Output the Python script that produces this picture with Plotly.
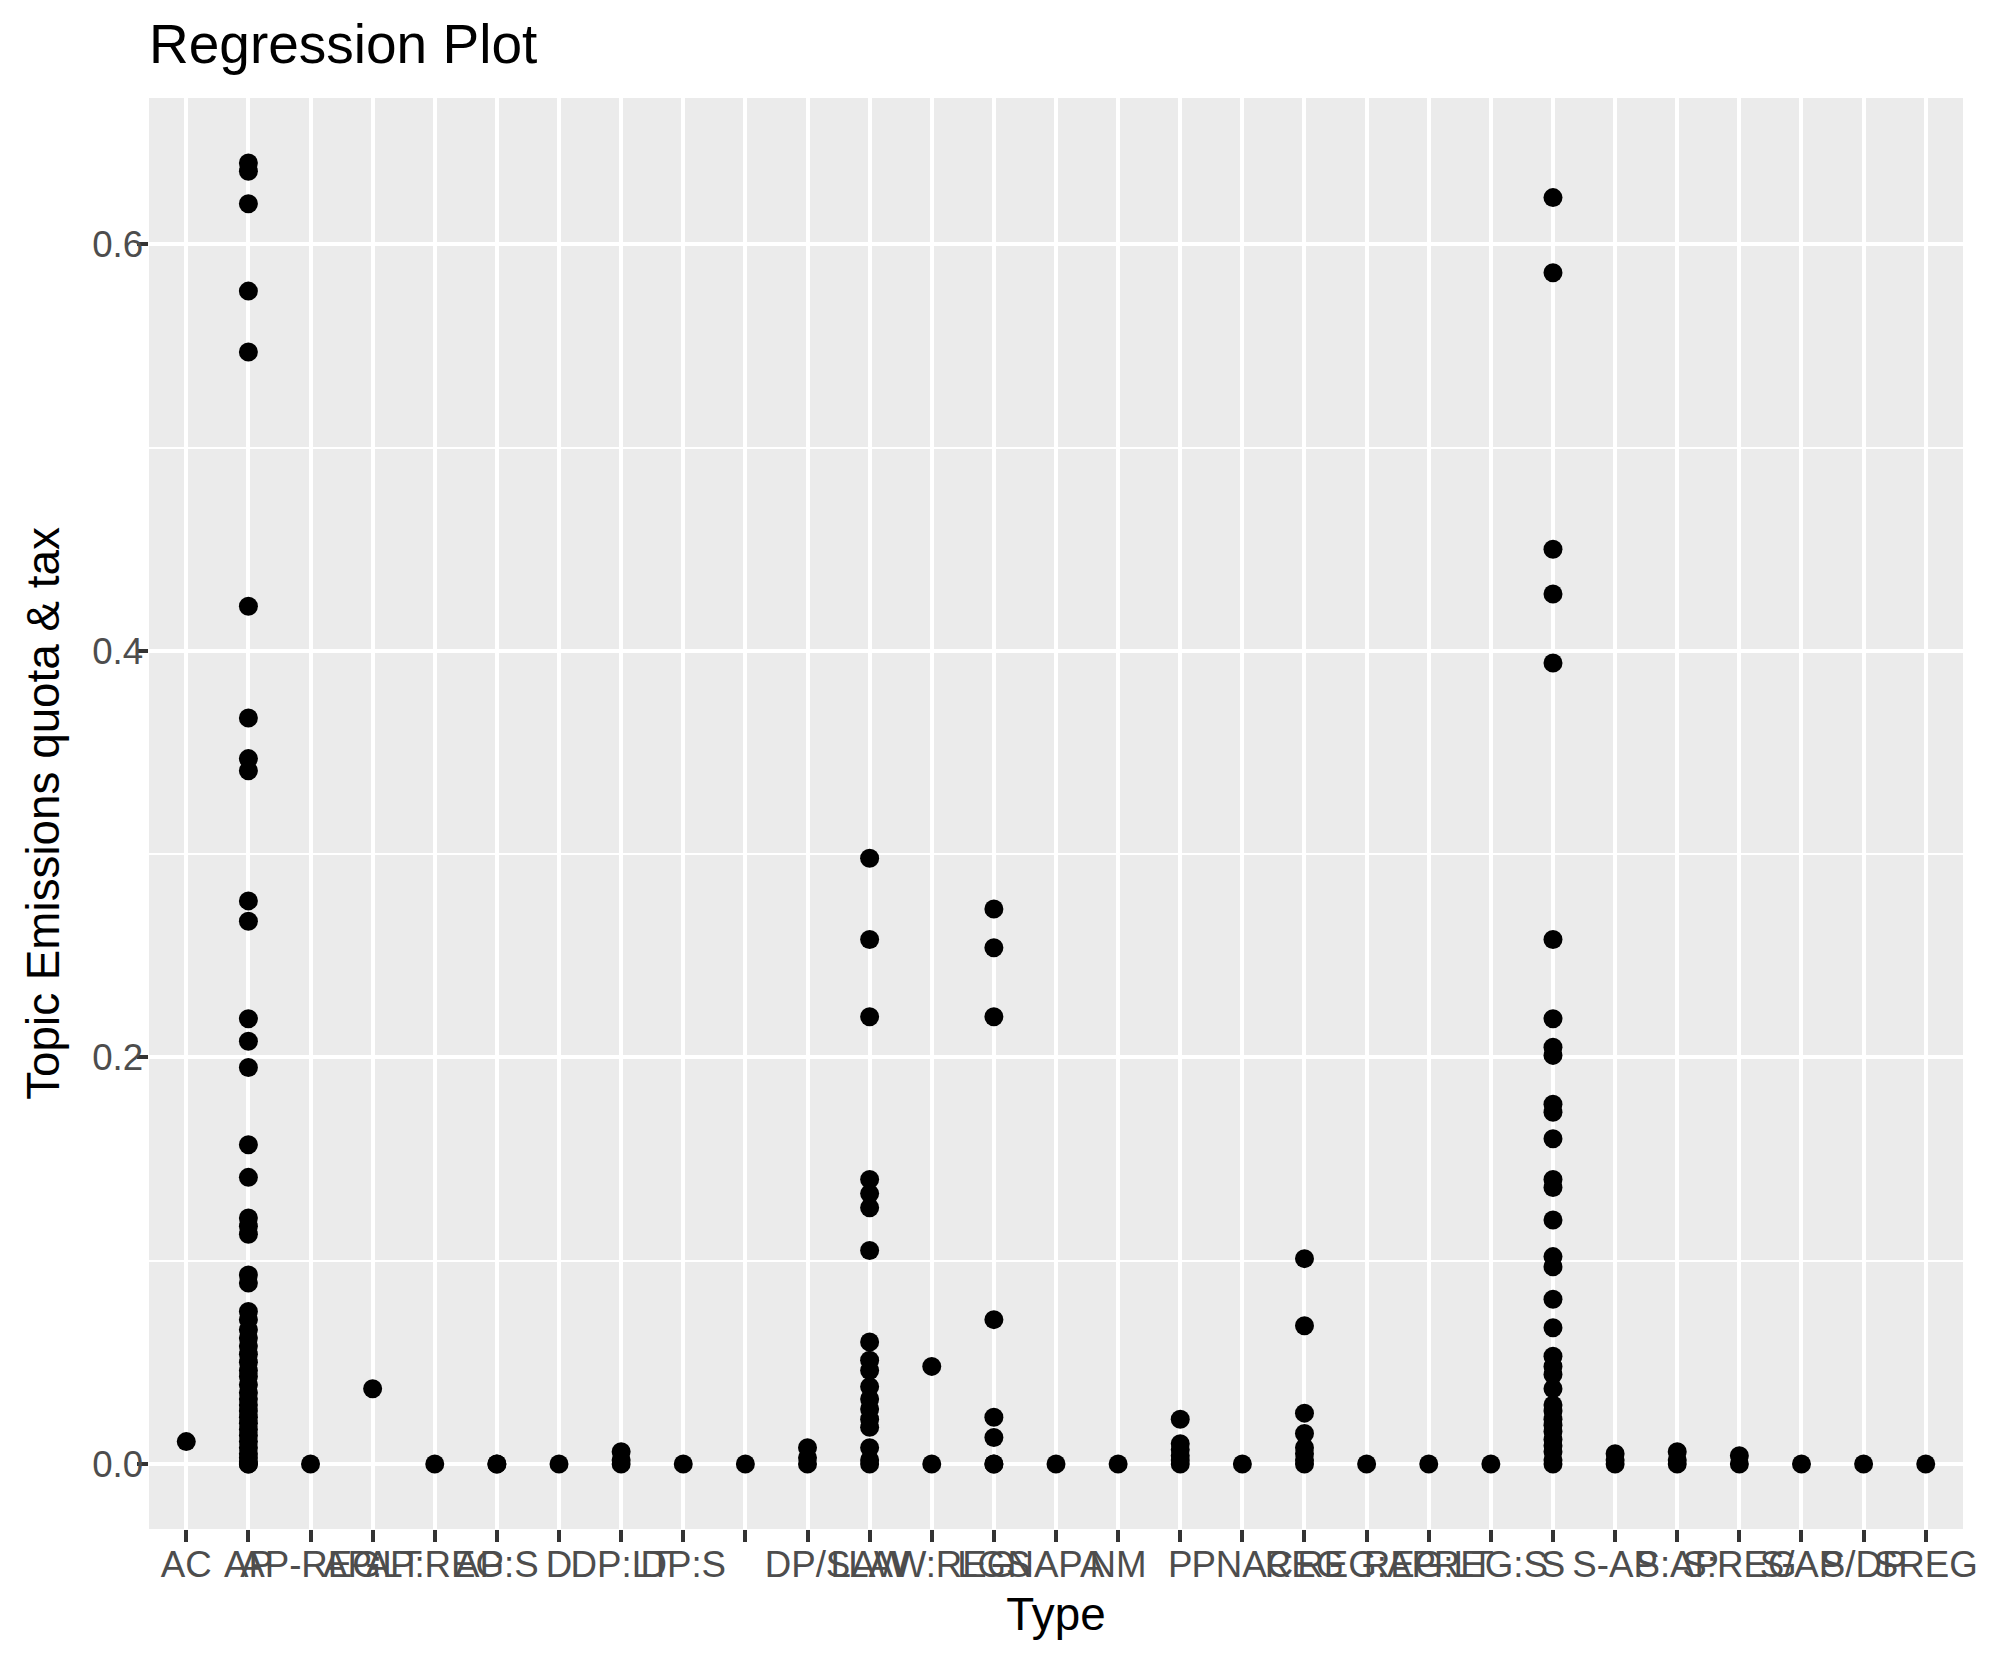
import plotly.graph_objects as go

# ---- data ----
categories = ["AC", "AP", "AP-REG", "AP:LT", "AP:REG", "AP:S", "D", "DP:LT", "DP:S",
              " ", "DP/S", "LAW", "LAW:REG", "LGS", "NAPA", "NM", "P", "PNAC",
              "REG", "REG:AP", "REG:LT", "REG:S", "S", "S-AP", "S:AP", "S:REG",
              "S/AP", "S/DP", "SREG"]

ac = [0.011]
ap = [0.640, 0.636, 0.620, 0.577, 0.547, 0.422, 0.367, 0.347, 0.341, 0.277, 0.267,
      0.219, 0.208, 0.195, 0.157, 0.141, 0.121, 0.117, 0.113, 0.093, 0.089, 0.075,
      0.071, 0.066, 0.062, 0.058, 0.054, 0.050, 0.046, 0.043, 0.039, 0.035, 0.032,
      0.029, 0.026, 0.023, 0.020, 0.017, 0.014, 0.011, 0.008, 0.005, 0.003, 0.001,
      0.0, 0.0]
ap_dash_reg = [0.0]
ap_lt = [0.037]
ap_reg = [0.0]
ap_s = [0.0, 0.0]
d = [0.0]
dp_lt = [0.006, 0.002, 0.0]
dp_s = [0.0]
blank = [0.0]
dp_slash_s = [0.008, 0.003, 0.0]
law = [0.298, 0.258, 0.220, 0.140, 0.133, 0.126, 0.105, 0.060, 0.051, 0.046, 0.038,
       0.032, 0.027, 0.022, 0.018, 0.008, 0.002, 0.0]
law_reg = [0.048, 0.0]
lgs = [0.273, 0.254, 0.220, 0.071, 0.023, 0.013, 0.0, 0.0]
napa = [0.0]
nm = [0.0]
p = [0.022, 0.010, 0.007, 0.004, 0.002, 0.0]
pnac = [0.0]
reg = [0.101, 0.068, 0.025, 0.015, 0.008, 0.005, 0.002, 0.0]
reg_ap = [0.0]
reg_lt = [0.0]
reg_s = [0.0]
s = [0.623, 0.586, 0.450, 0.428, 0.394, 0.258, 0.219, 0.205, 0.201, 0.177, 0.173,
     0.160, 0.140, 0.136, 0.120, 0.102, 0.097, 0.081, 0.067, 0.053, 0.048, 0.044,
     0.037, 0.029, 0.026, 0.022, 0.019, 0.016, 0.012, 0.009, 0.006, 0.002, 0.0]
s_dash_ap = [0.005, 0.002, 0.0]
s_ap = [0.006, 0.002, 0.0]
s_reg = [0.004, 0.0]
s_slash_ap = [0.0]
s_slash_dp = [0.0]
sreg = [0.0]

y_ticks = [0.0, 0.2, 0.4, 0.6]

series = [ac, ap, ap_dash_reg, ap_lt, ap_reg, ap_s, d, dp_lt, dp_s, blank, dp_slash_s,
          law, law_reg, lgs, napa, nm, p, pnac, reg, reg_ap, reg_lt, reg_s, s,
          s_dash_ap, s_ap, s_reg, s_slash_ap, s_slash_dp, sreg]

xs, ys = [], []
for cat, vals in zip(categories, series):
    for v in vals:
        xs.append(cat)
        ys.append(v)

ymax = max(ys)
ymin = min(ys)
pad = (ymax - ymin) * 0.05

FONT = "Liberation Sans, Arial, Helvetica, sans-serif"
# the page body adds an 8px margin, so the figure is drawn 8px smaller
W, H = 1982, 1657

fig = go.Figure()
fig.add_trace(go.Scatter(
    x=xs, y=ys, mode="markers",
    marker=dict(color="black", size=19, line=dict(width=0)),
    showlegend=False, hoverinfo="x+y",
))

fig.update_layout(
    width=W, height=H,
    margin=dict(l=141, r=24, t=90, b=136, pad=0),
    paper_bgcolor="white",
    plot_bgcolor="#EBEBEB",
    font=dict(family=FONT, color="black"),
    title=dict(text="Regression Plot", font=dict(size=55, color="black", family=FONT),
               xref="paper", x=0, xanchor="left",
               yref="container", y=1 - 36 / H, yanchor="middle"),
)

fig.update_xaxes(
    type="category",
    categoryorder="array", categoryarray=categories,
    tickmode="array", tickvals=categories, ticktext=categories,
    range=[-0.6, len(categories) - 1 + 0.6],
    tickangle=0,
    showgrid=True, gridcolor="white", gridwidth=4.4,
    zeroline=False, showline=False,
    ticks="outside", ticklen=11.5, tickwidth=4.4, tickcolor="#333333",
    ticklabelstandoff=-9,
    tickfont=dict(size=36.7, color="#4D4D4D", family=FONT),
    title=dict(text="Type", font=dict(size=45.8, color="black", family=FONT), standoff=14),
)

fig.update_yaxes(
    range=[ymin - pad, ymax + pad],
    tickmode="array", tickvals=y_ticks, ticktext=[f"{v:.1f}" for v in y_ticks],
    showgrid=True, gridcolor="white", gridwidth=4.4,
    minor=dict(dtick=0.1, tick0=0, showgrid=True, gridcolor="white", gridwidth=2.2, ticks=""),
    zeroline=False, showline=False,
    ticks="outside", ticklen=11.5, tickwidth=4.4, tickcolor="#333333",
    ticklabelstandoff=-14,
    tickfont=dict(size=36.7, color="#4D4D4D", family=FONT),
    title=dict(text="Topic Emissions quota & tax",
               font=dict(size=45.8, color="black", family=FONT), standoff=18),
)

fig.write_html("out.html")
